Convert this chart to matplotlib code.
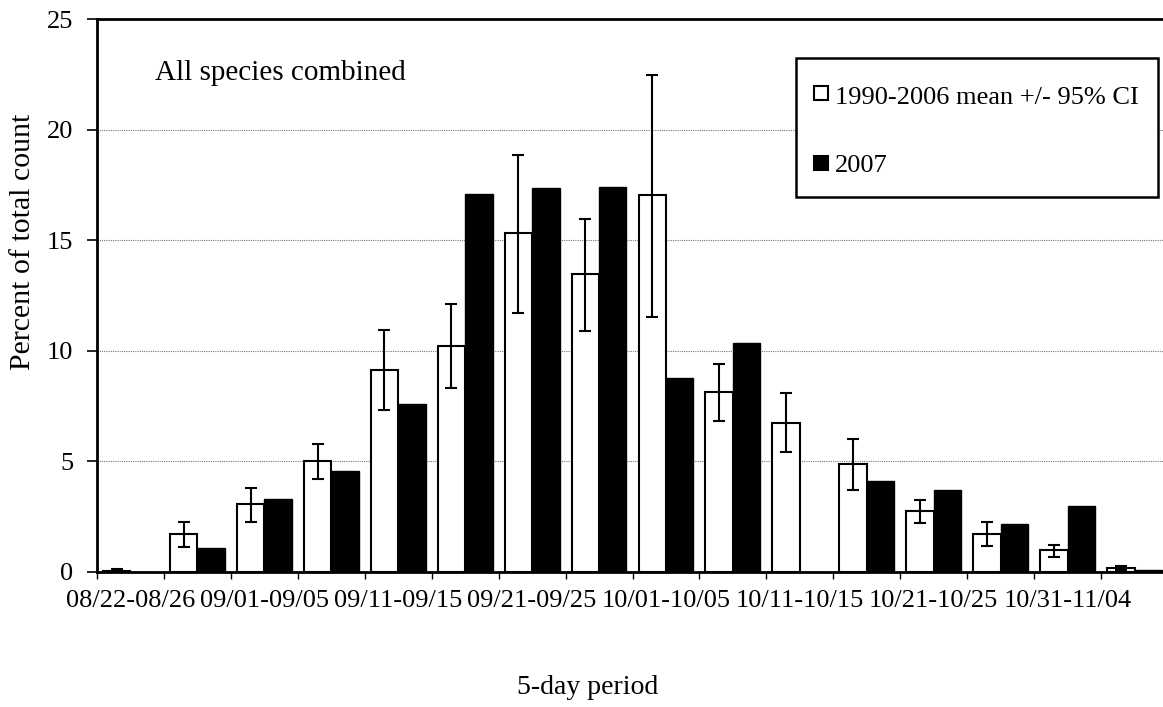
import numpy as np
import matplotlib.pyplot as plt
from matplotlib.patches import Rectangle

plt.rcParams['font.family'] = ['Liberation Serif', 'DejaVu Serif']

# 5-day periods
periods = ['08/22-08/26', '08/27-08/31', '09/01-09/05', '09/06-09/10',
           '09/11-09/15', '09/16-09/20', '09/21-09/25', '09/26-09/30',
           '10/01-10/05', '10/06-10/10', '10/11-10/15', '10/16-10/20',
           '10/21-10/25', '10/26-10/30', '10/31-11/04', '11/05-11/09']

# 1990-2006 mean with 95% CI
mean_9006 = [0.05, 1.69, 3.05, 5.01, 9.13, 10.23, 15.31, 13.46,
             17.03, 8.13, 6.74, 4.86, 2.75, 1.69, 0.98, 0.18]
ci_hi = [0.10, 2.26, 3.77, 5.78, 10.92, 12.13, 18.87, 15.96,
         22.50, 9.41, 8.07, 6.00, 3.23, 2.24, 1.22, 0.28]
ci_lo = [0.00, 1.10, 2.26, 4.19, 7.30, 8.31, 11.71, 10.89,
         11.52, 6.82, 5.40, 3.70, 2.20, 1.18, 0.68, 0.08]

# 2007
y2007 = [0.0, 1.06, 3.30, 4.57, 7.59, 17.08, 17.36, 17.41,
         8.76, 10.36, 0.0, 4.10, 3.71, 2.16, 2.99, 0.08]

legend_labels = ['1990-2006 mean +/- 95% CI', '2007']

W, H = 1163, 707
fig = plt.figure(figsize=(W / 100, H / 100), dpi=100)
ax = fig.add_axes([97 / W, 1 - 571.7 / H, (1168 - 97) / W, (571.7 - 19.3) / H])

x = np.arange(len(periods))
m = np.array(mean_9006)
yerr = [m - np.array(ci_lo), np.array(ci_hi) - m]
bw = 0.41

ax.bar(x - bw / 2, m, bw, color='white', edgecolor='black', linewidth=1.5, zorder=3)
ax.errorbar(x - bw / 2, m, yerr=yerr, fmt='none', ecolor='black',
            elinewidth=1.5, capsize=4.3, capthick=1.5, zorder=4)
ax.bar(x + bw / 2, y2007, bw, color='black', edgecolor='black', linewidth=1.0, zorder=3)

ax.set_xlim(-0.5, len(periods) - 0.5)
ax.set_ylim(0, 25)
ax.set_yticks([0, 5, 10, 15, 20, 25])
ax.tick_params(axis='y', labelsize=19, length=7, width=1.2, pad=10, direction='out')

# tick marks at category boundaries, labels on every other category
ax.set_xticks(np.arange(-0.5, len(periods), 1.0))
ax.set_xticklabels([])
ax.tick_params(axis='x', which='major', length=5, width=1.0, direction='out')
ax.set_xticks(x[::2], minor=True)
ax.set_xticklabels(periods[::2], minor=True)
ax.tick_params(axis='x', which='minor', length=0, labelsize=19, pad=13)

ax.yaxis.grid(True, linestyle=(0, (1, 1)), color='#777777', linewidth=0.8, zorder=0)
ax.set_axisbelow(True)
for s in ax.spines.values():
    s.set_linewidth(2.0)

ax.text(155 / W, 1 - 80 / H, 'All species combined', transform=fig.transFigure,
        fontsize=21, va='baseline', ha='left')

# legend box, drawn by hand (Excel-style spacing)
def px(x0, y0):
    return x0 / W, 1 - y0 / H

fig.patches.append(Rectangle(px(795.7, 197), (1157.7 - 795.7) / W, (197 - 58) / H,
                             transform=fig.transFigure, facecolor='white',
                             edgecolor='black', linewidth=1.8, zorder=5))
for lab, fc, cy, base in zip(legend_labels, ['white', 'black'], [93, 163], [104, 172]):
    fig.patches.append(Rectangle(px(814, cy + 7), 14 / W, 14 / H,
                                 transform=fig.transFigure, facecolor=fc,
                                 edgecolor='black', linewidth=1.5, zorder=6))
    fig.text(835 / W, 1 - base / H, lab, fontsize=19, va='baseline', ha='left', zorder=6)

fig.text(588 / W, 1 - 688 / H, '5-day period', fontsize=20, ha='center', va='center')
fig.text(23 / W, 1 - 242 / H, 'Percent of total count', fontsize=21.5,
         rotation=90, ha='center', va='center')

fig.savefig('out.png', dpi=100)
